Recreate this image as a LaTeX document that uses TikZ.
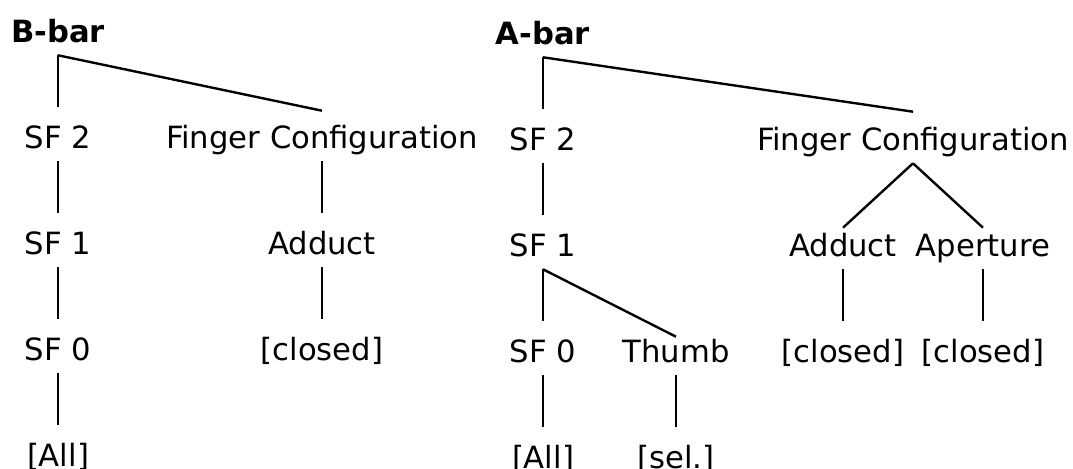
\documentclass[tikz,border=0pt]{standalone}
\usepackage{fontspec}
\setmainfont{DejaVu Sans}
\usetikzlibrary{calc}
\tikzset{
  tnode/.style={anchor=base, inner sep=0pt, text height=1.025cm, text depth=0.325cm,
    font=\fontsize{21.8pt}{26pt}\selectfont},
  root/.style={tnode, font=\fontsize{21.8pt}{26pt}\selectfont\bfseries},
  edge/.style={line width=1.7pt, color=black},
}
\begin{document}
\begin{tikzpicture}[x=0.025cm, y=-0.025cm]
    \useasboundingbox (0,0) rectangle (1073,468);
    % B-bar tree
    \node[root] (bbar) at (58,42) {B-bar};
    \node[tnode] (lsf2) at (58,148) {SF 2};
    \node[tnode] (lfc) at (322,148) {Finger Configuration};
    \node[tnode] (lsf1) at (58,254) {SF 1};
    \node[tnode] (ladd) at (322,254) {Adduct};
    \node[tnode] (lsf0) at (58,360) {SF 0};
    \node[tnode] (lcl) at (322,360) {[closed]};
    \node[tnode] (lall) at (58,466) {[All]};
    % A-bar tree
    \node[root] (abar) at (543,44) {A-bar};
    \node[tnode] (rsf2) at (543,150) {SF 2};
    \node[tnode] (rfc) at (913,150) {Finger Configuration};
    \node[tnode] (rsf1) at (543,256) {SF 1};
    \node[tnode] (radd) at (843,256) {Adduct};
    \node[tnode] (rape) at (983,256) {Aperture};
    \node[tnode] (rsf0) at (543,362) {SF 0};
    \node[tnode] (thumb) at (676,362) {Thumb};
    \node[tnode] (rcl1) at (843,362) {[closed]};
    \node[tnode] (rcl2) at (983,362) {[closed]};
    \node[tnode] (rall) at (543,468) {[All]};
    \node[tnode] (sel) at (676,468) {[sel.]};
    \foreach \i/\j in {bbar/lsf2,lsf2/lsf1,lsf1/lsf0,lsf0/lall,lfc/ladd,ladd/lcl,
      abar/rsf2,rsf2/rsf1,rsf1/rsf0,rsf0/rall,thumb/sel,radd/rcl1,rape/rcl2}
      \draw[edge] (\i.south) -- (\j.north);
    \foreach \i/\j/\d in {bbar/lfc/4,abar/rfc/3,rsf1/thumb/16,rfc/radd/13,rfc/rape/13}
      \draw[edge] (\i.south) -- ($(\j.north)+(0,\d)$);
\end{tikzpicture}
\end{document}
